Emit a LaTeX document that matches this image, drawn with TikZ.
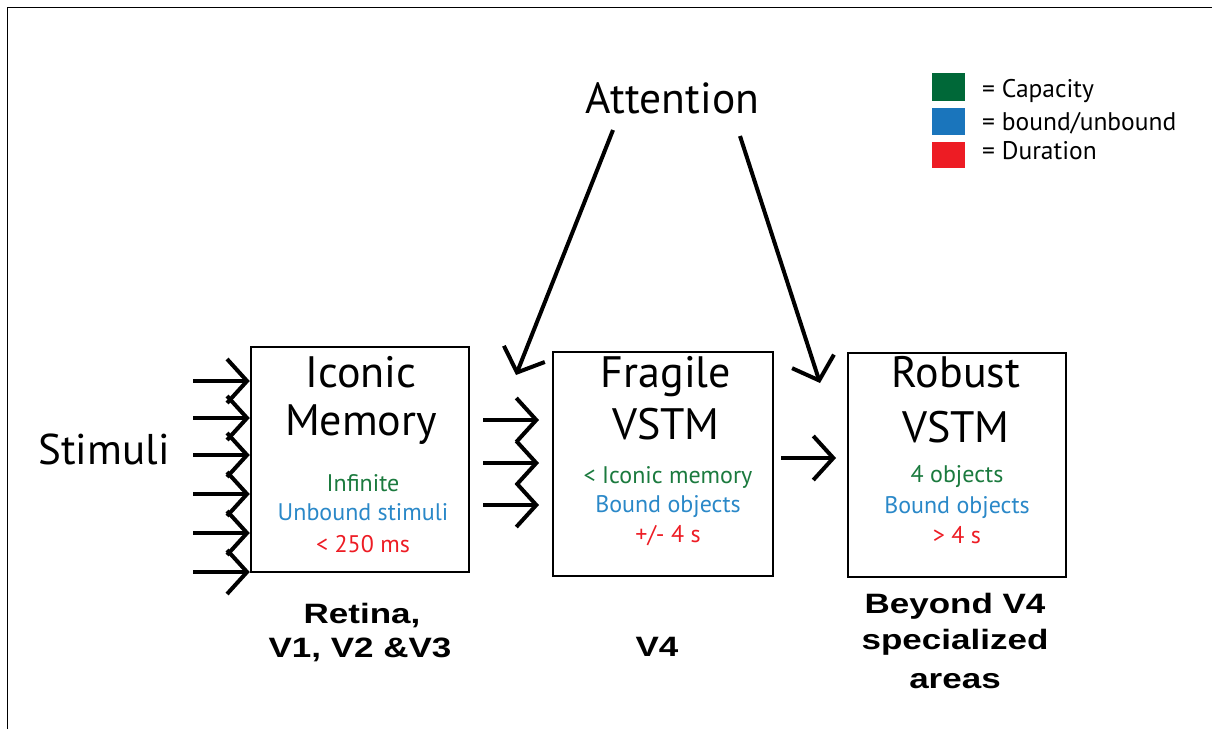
\documentclass[tikz,border=0pt]{standalone}
\usepackage{fontspec}
\setmainfont{PT Sans}
\newfontfamily\lblfont[FakeStretch=1.25]{Liberation Sans}
\usetikzlibrary{arrows.meta}
\definecolor{capg}{HTML}{1B7A3E}
\definecolor{bndb}{HTML}{2A88C8}
\definecolor{durr}{HTML}{ED1C24}
\definecolor{sqg}{HTML}{006838}
\definecolor{sqb}{HTML}{1A75BC}
\tikzset{
  membox/.style={draw=black, line width=2pt, inner sep=0pt},
  title/.style={anchor=base, inner sep=0pt, font=\fontsize{44}{50}\selectfont},
  detail/.style={anchor=base, inner sep=0pt, font=\fontsize{24}{30}\selectfont},
  legtxt/.style={anchor=base west, inner sep=0pt, font=\fontsize{25.5}{30}\selectfont},
  legsq/.style={minimum width=33pt, inner sep=0pt},
  area/.style={anchor=base, inner sep=0pt, font=\lblfont\bfseries\fontsize{28}{32}\selectfont},
  arr/.style={line width=4pt, -{Straight Barb[length=20pt, width=44pt]}},
}
\begin{document}
\begin{tikzpicture}[x=1pt,y=-1pt]
\useasboundingbox (0,0) rectangle (1212,729);
% frame
\draw[line width=1.6pt] (7.3,729) -- (7.3,7.3) -- (1212,7.3);

% boxes
\node[membox, minimum width=218.5pt, minimum height=225pt] (box1) at (360,459.5) {};
\node[membox, minimum width=220pt, minimum height=224pt] (box2) at (663,464) {};
\node[membox, minimum width=218pt, minimum height=224pt] (box3) at (957,465) {};

% box 1 text
\node[title] (t1a) at (361,387) {Iconic};
\node[title] (t1b) at (361,435) {Memory};
\node[detail, text=capg] (d1a) at (363,491) {Infinite};
\node[detail, text=bndb] (d1b) at (363,520) {Unbound stimuli};
\node[detail, text=durr] (d1c) at (363,552) {< 250 ms};

% box 2 text
\node[title] (t2a) at (666,387) {Fragile};
\node[title] (t2b) at (666,439) {VSTM};
\node[detail, text=capg] (d2a) at (668,483) {< Iconic memory};
\node[detail, text=bndb] (d2b) at (668,512) {Bound objects};
\node[detail, text=durr] (d2c) at (668,542) {+/- 4 s};

% box 3 text
\node[title] (t3a) at (956,387) {Robust};
\node[title] (t3b) at (956,442) {VSTM};
\node[detail, text=capg] (d3a) at (957,482) {4 objects};
\node[detail, text=bndb] (d3b) at (957,513) {Bound objects};
\node[detail, text=durr] (d3c) at (957,543) {> 4 s};

% other labels
\node[title, font=\fontsize{43.5}{50}\selectfont] (att) at (672.5,113) {Attention};
\node[title, font=\fontsize{43}{50}\selectfont] (stim) at (104,464) {Stimuli};

% area labels
\node[area] (r1) at (362,623) {Retina,};
\node[area] (r2) at (360,657) {V1, V2 \&V3};
\node[area] (v4) at (657,656) {V4};
\node[area] (b1) at (955,613) {Beyond V4};
\node[area] (b2) at (955,649) {specialized};
\node[area] (b3) at (955,688) {areas};

% legend
\node[legsq, fill=sqg, minimum height=28pt] (lg) at (948.5,87) {};
\node[legsq, fill=sqb, minimum height=27pt] (lb) at (948.5,121.5) {};
\node[legsq, fill=durr, minimum height=26pt] (lr) at (948.5,155) {};
\node[legtxt] (lgt) at (982,97) {= Capacity};
\node[legtxt] (lbt) at (982,130) {= bound/unbound};
\node[legtxt] (lrt) at (982,159) {= Duration};

% stimuli arrows
\foreach \y [count=\i] in {381,418,455,494,533,572} {
  \coordinate (s\i) at (193,\y);
  \draw[arr] (s\i) -- (s\i -| box1.west);
}

% box1 -> box2
\foreach \y in {420,463,505} {
  \draw[arr, shorten <=13pt, shorten >=13pt] (box1.east |- 0,\y) -- (box2.west |- 0,\y);
}

% box2 -> box3
\draw[arr, shorten <=7pt, shorten >=11pt] (box2.east |- 0,458) -- (box3.west |- 0,458);

% attention arrows
\coordinate (a1s) at (613,130);
\coordinate (a1e) at (516,375);
\coordinate (a2s) at (740,136);
\coordinate (a2e) at (820,383);
\draw[arr] (a1s) -- (a1e);
\draw[arr] (a2s) -- (a2e);
\end{tikzpicture}
\end{document}
